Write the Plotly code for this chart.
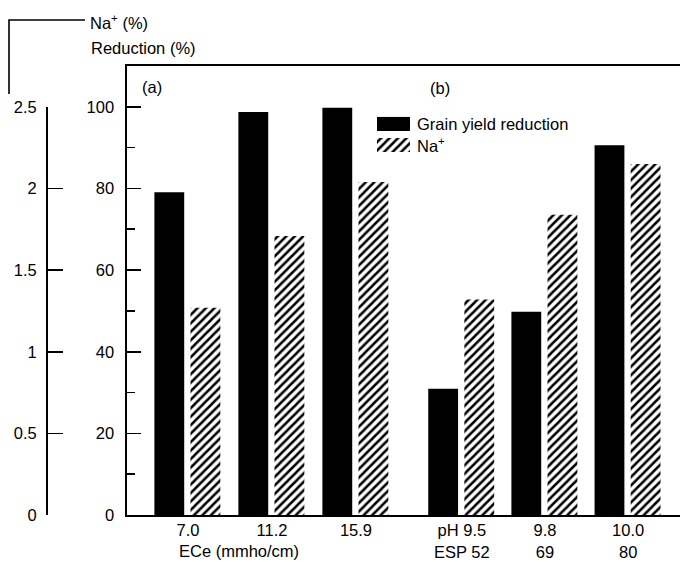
import plotly.graph_objects as go

# ---- data ----
ece_values = ["7.0", "11.2", "15.9"]          # ECe (mmho/cm)
ph_values = ["9.5", "9.8", "10.0"]             # pH
esp_values = ["52", "69", "80"]                # ESP
grain_yield_reduction = [79.1, 98.7, 99.8, 30.9, 49.8, 90.6]   # Reduction (%)
na_percent = [1.27, 1.71, 2.04, 1.32, 1.84, 2.15]              # Na+ (%)

reduction_ticks = [0, 20, 40, 60, 80, 100]
na_ticks = [0, 0.5, 1, 1.5, 2, 2.5]
na_ticktext = ["0", "0.5", "1", "1.5", "2", "2.5"]

# ---- layout helpers ----
W, H = 680, 562
group_pos = [0, 1, 2, 3.26, 4.25, 5.24]
tick_text = ece_values + [
    f"pH {ph_values[0]}<br>ESP {esp_values[0]}",
    f"{ph_values[1]}<br>{esp_values[1]}",
    f"{ph_values[2]}<br>{esp_values[2]}",
]
FONT = "Liberation Sans, Arial, sans-serif"
FS = 16.5
LW = 1.6
CLEAR = "rgba(0,0,0,0)"

def py(p):  # pixel y -> paper y
    return (H - p) / H

def px(p):
    return p / W

fig = go.Figure()

fig.add_trace(go.Bar(
    x=group_pos, y=grain_yield_reduction, name="Grain yield reduction",
    width=0.355, offset=-0.40,
    marker=dict(color="black", line=dict(width=0)),
    xaxis="x", yaxis="y", showlegend=False,
))
fig.add_trace(go.Bar(
    x=group_pos, y=na_percent, name="Na+",
    width=0.355, offset=0.03,
    marker=dict(color="white", line=dict(width=0),
                pattern=dict(shape="/", size=6, solidity=0.42,
                             fgcolor="black", bgcolor="white", fillmode="replace")),
    xaxis="x", yaxis="y2", showlegend=False,
))

# legend swatches (drawn on a hidden helper axis)
fig.add_trace(go.Bar(
    x=[1], y=[28.2], orientation="h", width=14.3, base=0,
    marker=dict(color="black", line=dict(width=0)),
    xaxis="x3", yaxis="y3", showlegend=False, hoverinfo="skip",
))
fig.add_trace(go.Bar(
    x=[1], y=[7.0], orientation="h", width=14.0, base=0,
    marker=dict(color="white", line=dict(width=0),
                pattern=dict(shape="/", size=6, solidity=0.42,
                             fgcolor="black", bgcolor="white", fillmode="replace")),
    xaxis="x3", yaxis="y3", showlegend=False, hoverinfo="skip",
))

plot_bottom = 515
plot_top = 66
na_top = 107

fig.update_layout(
    width=W, height=H, autosize=False,
    margin=dict(l=0, r=0, t=0, b=0, pad=0, autoexpand=False),
    paper_bgcolor="white", plot_bgcolor=CLEAR,
    font=dict(family=FONT, size=FS, color="black"),
    barmode="overlay",
    xaxis=dict(
        domain=[px(127), 1], range=[-0.726, 5.857],
        tickvals=group_pos, ticktext=tick_text, ticks="",
        showline=True, linecolor="black", linewidth=LW, mirror=True,
        showgrid=False, zeroline=False, anchor="y", automargin=False,
        tickfont=dict(size=FS), ticklabelstandoff=0,
    ),
    yaxis=dict(
        domain=[py(plot_bottom), py(plot_top)], range=[0, 110],
        tickvals=reduction_ticks, ticks="inside", ticklen=14, tickwidth=LW,
        tickcolor="black",
        minor=dict(dtick=10, tick0=0, ticks="inside", ticklen=8, tickwidth=LW,
                   tickcolor="black", showgrid=False),
        showline=True, linecolor="black", linewidth=LW,
        showgrid=False, zeroline=False, anchor="x", automargin=False,
        tickfont=dict(size=FS), ticklabelstandoff=8,
    ),
    yaxis2=dict(
        domain=[py(plot_bottom), py(na_top)], range=[0, 2.5],
        tickvals=na_ticks, ticktext=na_ticktext,
        ticks="inside", ticklen=15, tickwidth=LW, tickcolor="black",
        showline=True, linecolor="black", linewidth=LW,
        showgrid=False, zeroline=False, automargin=False,
        anchor="free", position=px(46), side="left",
        tickfont=dict(size=FS), ticklabelstandoff=6,
    ),
    xaxis3=dict(domain=[px(377), px(410)], range=[0, 1], visible=False,
                anchor="y3", fixedrange=True),
    yaxis3=dict(domain=[py(152), py(116.7)], range=[0, 35.3], visible=False,
                anchor="x3", fixedrange=True),
)

# bracket over the Na+ axis
fig.add_shape(type="path",
              path=f"M {px(9)} {py(94)} L {px(9)} {py(20)} L {px(85)} {py(20)}",
              xref="paper", yref="paper",
              line=dict(color="black", width=LW))

ann = [
    dict(text="Na<sup>+</sup> (%)", x=px(88), y=py(22), xanchor="left", yanchor="middle"),
    dict(text="Reduction (%)", x=px(89), y=py(48.5), xanchor="left", yanchor="middle"),
    dict(text="(a)", x=px(140), y=py(87), xanchor="left", yanchor="middle"),
    dict(text="(b)", x=px(428), y=py(88), xanchor="left", yanchor="middle"),
    dict(text="Grain yield reduction", x=px(415), y=py(123.5), xanchor="left", yanchor="middle"),
    dict(text="Na<sup>+</sup>", x=px(415), y=py(145), xanchor="left", yanchor="middle"),
    dict(text="ECe (mmho/cm)", x=px(177), y=py(551), xanchor="left", yanchor="middle"),
]
for a in ann:
    fig.add_annotation(xref="paper", yref="paper", showarrow=False,
                       font=dict(family=FONT, size=FS, color="black"), **a)

fig.write_html("out.html",
               config={"displayModeBar": False, "staticPlot": True},
               post_script="document.body.style.margin='0';document.body.style.overflow='hidden';")
